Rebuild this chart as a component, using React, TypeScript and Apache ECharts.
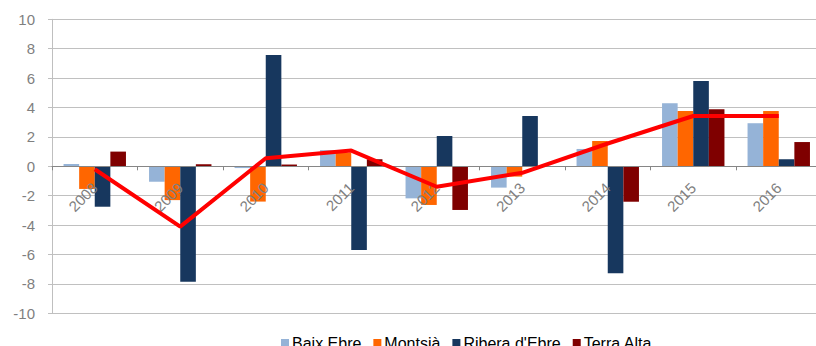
import React, { useEffect, useRef } from "react";
import * as echarts from "echarts";

const years = ["2008", "2009", "2010", "2011", "2012", "2013", "2014", "2015", "2016"];
const baixEbre = [0.15, -1.05, -0.12, 1.1, -2.18, -1.45, 1.18, 4.29, 2.93];
const montsia = [-1.54, -2.3, -2.4, 0.93, -2.63, -0.7, 1.72, 3.76, 3.76];
const riberaEbre = [-2.75, -7.85, 7.57, -5.7, 2.06, 3.42, -7.28, 5.8, 0.48];
const terraAlta = [1.0, 0.14, 0.12, 0.48, -2.97, 0, -2.41, 3.88, 1.65];
const total = [-0.2, -4.1, 0.55, 1.07, -1.39, -0.44, 1.55, 3.42, 3.42];

const FONT = "'Liberation Sans', Arial, sans-serif";

export default function App() {
  const ref = useRef<HTMLDivElement>(null);
  useEffect(() => {
    if (!ref.current) return;
    const chart = echarts.init(ref.current, null, { renderer: "svg" });
    const bar = (name: string, data: number[], color: string) => ({
      name,
      type: "bar",
      data,
      barGap: "0%",
      barCategoryGap: "27%",
      itemStyle: { color },
      z: 2,
    });
    chart.setOption({
      animation: false,
      backgroundColor: "#ffffff",
      textStyle: { fontFamily: FONT },
      grid: {
        left: 52,
        right: -5.5,
        top: 19.3,
        bottom: 32.7,
        containLabel: false,
        outerBoundsMode: "none",
      },
      legend: {
        data: ["Baix Ebre", "Montsià", "Ribera d'Ebre", "Terra Alta"],
        left: 276,
        top: 330,
        itemWidth: 8,
        itemHeight: 8,
        itemGap: 12,
        icon: "rect",
        textStyle: { fontSize: 16, color: "#000000", fontFamily: FONT, padding: [0, 0, 0, -2] },
      },
      xAxis: {
        type: "category",
        data: years,
        z: 3,
        offset: -147,
        axisLine: { onZero: false, lineStyle: { color: "#868686", width: 1 } },
        axisTick: { show: true, length: 4, lineStyle: { color: "#868686" } },
        axisLabel: {
          rotate: 45,
          margin: 19,
          fontSize: 15,
          color: "#7f7f7f",
          fontFamily: FONT,
        },
        splitLine: { show: false },
      },
      yAxis: {
        type: "value",
        min: -10,
        max: 10,
        interval: 2,
        axisLine: { show: true, lineStyle: { color: "#bfbfbf" } },
        axisTick: { show: true, length: 4, lineStyle: { color: "#bfbfbf" } },
        axisLabel: { fontSize: 15, color: "#7f7f7f", margin: 17, fontFamily: FONT },
        splitLine: { lineStyle: { color: "#c0c0c0", width: 1 } },
      },
      series: [
        bar("Baix Ebre", baixEbre, "#95b3d7"),
        bar("Montsià", montsia, "#ff6600"),
        bar("Ribera d'Ebre", riberaEbre, "#17375e"),
        bar("Terra Alta", terraAlta, "#7f0000"),
        {
          name: "Total",
          type: "line",
          data: total,
          showSymbol: false,
          symbol: "none",
          z: 10,
          lineStyle: { color: "#ff0000", width: 4 },
          itemStyle: { color: "#ff0000" },
        },
      ],
    });
    return () => chart.dispose();
  }, []);
  return (
    <div
      ref={ref}
      style={{ position: "fixed", left: 0, top: 0, width: 816, height: 346 }}
    />
  );
}
